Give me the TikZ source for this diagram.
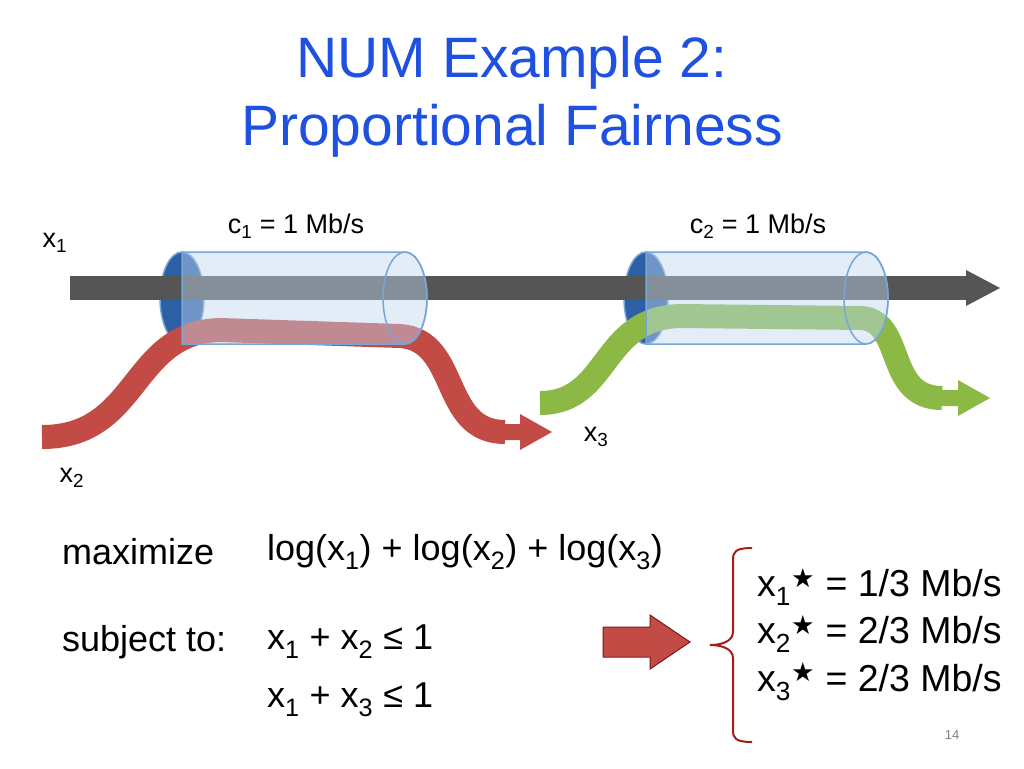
\documentclass[tikz,border=0pt]{standalone}
\usepackage{fontspec}
\setmainfont{Liberation Sans}
\newfontfamily\dejavu{DejaVu Sans}
\newcommand{\sbs}[1]{\textsubscript{#1}}
\begin{document}
\begin{tikzpicture}[x=1pt,y=-1pt,
  title/.style={text=titleblue,font=\fontsize{57}{60}\selectfont},
  body/.style={font=\fontsize{36}{40}\selectfont,anchor=west,inner sep=0},
  res/.style={font=\fontsize{37.5}{40}\selectfont,anchor=west,inner sep=0},
  lab/.style={font=\fontsize{27}{30}\selectfont,inner sep=0},
  pipe/.style={fill=pipeblue,fill opacity=0.45,draw=pipeedge,line width=1.5},
  band/.style={line width=24}]
\definecolor{titleblue}{RGB}{30,80,225}
\definecolor{pipeblue}{RGB}{190,215,240}
\definecolor{pipeedge}{RGB}{120,165,215}
\definecolor{pipeend}{RGB}{45,95,165}
\definecolor{bandgray}{RGB}{85,85,85}
\definecolor{bandred}{RGB}{195,75,70}
\definecolor{bandgreen}{RGB}{140,185,70}
\definecolor{bracered}{RGB}{160,30,30}
\useasboundingbox (0,0) rectangle (1024,768);
\node[title] (t1) at (512,63) {NUM Example 2:};
\node[title] (t2) at (512,131) {Proportional Fairness};
% pipe ends
\fill[pipeend,draw=pipeedge,line width=1.5] (182,298) ellipse [x radius=22,y radius=46];
\fill[pipeend,draw=pipeedge,line width=1.5] (646,298) ellipse [x radius=22,y radius=46];
% bands
\draw[band,bandgray] (70,288) -- (968,288);
\fill[bandgray] (966,270) -- (1000,288) -- (966,306) -- cycle;
\draw[band,bandred] (42,437) .. controls (140,437) and (130,332) .. (220,330) -- (400,336) .. controls (460,340) and (440,432) .. (505,432);
\fill[bandred] (500,424) -- (520,424) -- (520,414) -- (552,432) -- (520,450) -- (520,440) -- (500,440) -- cycle;
\draw[band,bandgreen] (540,403) .. controls (610,403) and (600,318) .. (680,316) -- (862,318) .. controls (905,322) and (885,398) .. (942,398);
\fill[bandgreen] (938,390) -- (958,390) -- (958,380) -- (990,398) -- (958,416) -- (958,406) -- (938,406) -- cycle;
% pipe bodies
\path[pipe] (182,252) -- (405,252) arc[start angle=-90,end angle=90,x radius=22,y radius=46] -- (182,344) -- cycle;
\draw[pipeedge,line width=1.5] (405,298) ellipse [x radius=22,y radius=46];
\path[pipe] (646,252) -- (866,252) arc[start angle=-90,end angle=90,x radius=22,y radius=46] -- (646,344) -- cycle;
\draw[pipeedge,line width=1.5] (866,298) ellipse [x radius=22,y radius=46];
% labels
\node[lab] (x1) at (55,243) {x\sbs{1}};
\node[lab] (x2) at (72,478) {x\sbs{2}};
\node[lab] (x3) at (596,437) {x\sbs{3}};
\node[lab] (c1) at (296,226) {c\sbs{1} = 1 Mb/s};
\node[lab] (c2) at (758,226) {c\sbs{2} = 1 Mb/s};
% optimization
\node[body] (max) at (62,552) {maximize};
\node[body] (obj) at (267,552) {log(x\sbs{1}) + log(x\sbs{2}) + log(x\sbs{3})};
\node[body] (st) at (62,642) {subject to:};
\node[body] (c1e) at (267,642) {x\sbs{1} + x\sbs{2} ≤ 1};
\node[body] (c2e) at (267,700) {x\sbs{1} + x\sbs{3} ≤ 1};
% block arrow
\filldraw[fill=bandred,draw=bracered!80!black,line width=1] (603,627) -- (650,627) -- (650,615) -- (690,642) -- (650,669) -- (650,657) -- (603,657) -- cycle;
% brace
\draw[bracered,line width=2] (752,548) .. controls (735,548) and (733,552) .. (733,560) -- (733,632) .. controls (733,642) and (720,645) .. (710,645) .. controls (720,645) and (733,648) .. (733,658) -- (733,730) .. controls (733,738) and (735,742) .. (752,742);
\node[res] (r1) at (757,587) {x\sbs{1}\textsuperscript{\dejavu ★} = 1/3 Mb/s};
\node[res] (r2) at (757,634) {x\sbs{2}\textsuperscript{\dejavu ★} = 2/3 Mb/s};
\node[res] (r3) at (757,682) {x\sbs{3}\textsuperscript{\dejavu ★} = 2/3 Mb/s};
\node[text=gray,font=\fontsize{13}{15}\selectfont] (pg) at (952,735) {14};
\end{tikzpicture}
\end{document}
